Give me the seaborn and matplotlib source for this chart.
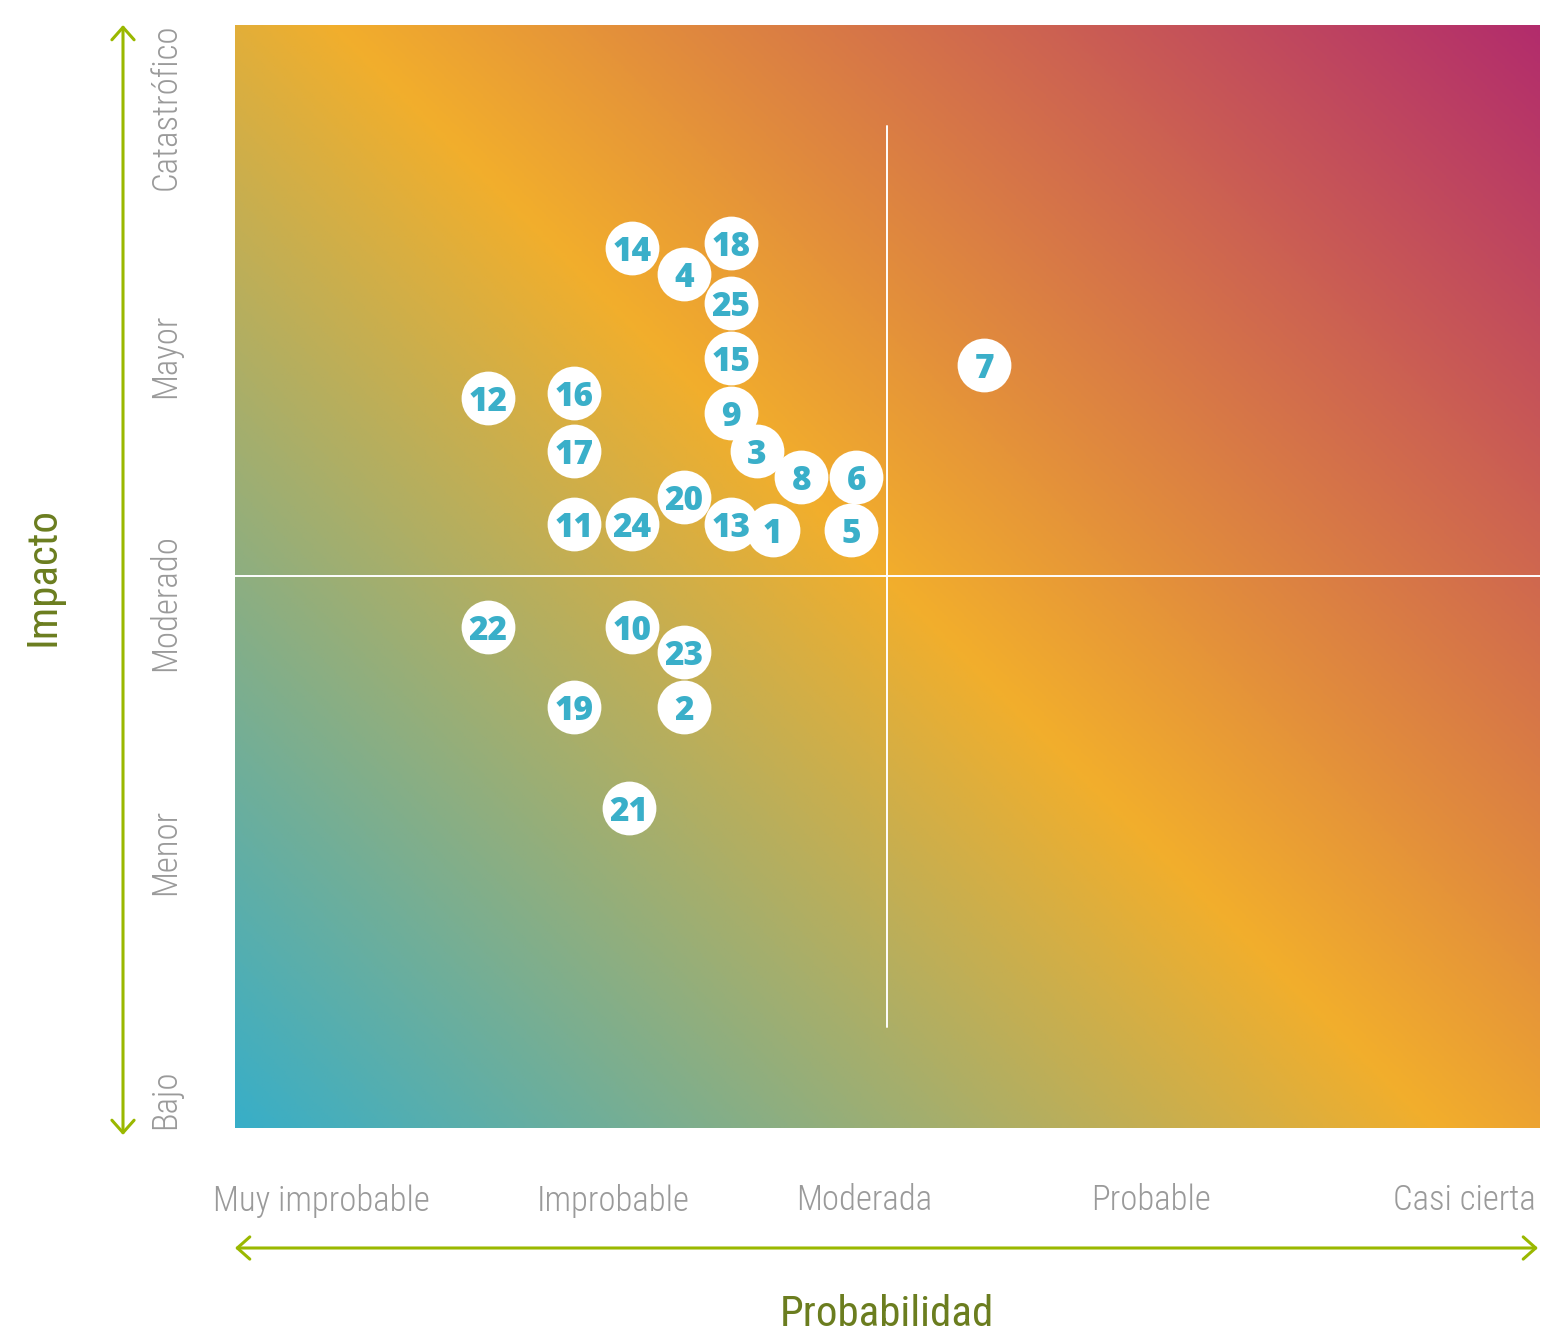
import numpy as np
import pandas as pd
import matplotlib
matplotlib.use("Agg")
import matplotlib.pyplot as plt
from matplotlib import font_manager
from matplotlib.colors import LinearSegmentedColormap
import seaborn as sns

# risk ids with probability (x) and impact (y) on a 0-5 scale
risk_ids = ["1", "2", "3", "4", "5", "6", "7", "8", "9", "10", "11", "12", "13",
            "14", "15", "16", "17", "18", "19", "20", "21", "22", "23", "24", "25"]
probabilidad = [2.06, 1.72, 2.00, 1.72, 2.36, 2.38, 2.87, 2.17, 1.90, 1.52, 1.30, 0.97, 1.90,
                1.52, 1.90, 1.30, 1.30, 1.90, 1.30, 1.72, 1.51, 0.97, 1.72, 1.52, 1.90]
impacto = [2.71, 1.91, 3.07, 3.87, 2.71, 2.95, 3.46, 2.95, 3.24, 2.27, 2.74, 3.31, 2.74,
           3.99, 3.49, 3.33, 3.07, 4.01, 1.91, 2.86, 1.45, 2.27, 2.16, 2.74, 3.74]

x_labels = ["Muy improbable", "Improbable", "Moderada", "Probable", "Casi cierta"]
x_label_pos = [0.33, 1.45, 2.41, 3.51, 4.71]
y_labels = ["Bajo", "Menor", "Moderado", "Mayor", "Catastrófico"]
y_label_pos = [0.13, 1.25, 2.38, 3.50, 4.63]

df = pd.DataFrame({"id": risk_ids, "Probabilidad": probabilidad, "Impacto": impacto})

# pick a condensed font if one is installed
names = {f.name for f in font_manager.fontManager.ttflist}
cond = "DejaVu Sans"
for cand in ["Roboto Condensed", "Liberation Sans Narrow", "DejaVu Sans Condensed"]:
    if cand in names:
        cond = cand
        break

sns.set_theme(style="white")
plt.rcParams["font.family"] = [cond, "DejaVu Sans"]

fig = plt.figure(figsize=(15.41, 13.41), dpi=100)
ax = fig.add_axes([235 / 1541, 213 / 1341, 1305 / 1541, 1103 / 1341])

# diagonal gradient background
W, H = 1305, 1103
u = np.linspace(0, 1, 600)
v = np.linspace(0, 1, 600)
U, V = np.meshgrid(u, v)
T = (U * W + V * H) / (W + H)
cmap = LinearSegmentedColormap.from_list("risk", ["#38aec8", "#f2ae2c", "#b22c6c"])
ax.imshow(T, cmap=cmap, extent=[0, 5, 0, 5], origin="lower", aspect="auto",
          vmin=0, vmax=1, zorder=0)

# quadrant lines
ax.axhline(2.5, color="white", lw=1.4, zorder=1)
ax.plot([2.5, 2.5], [0.46, 4.54], color="white", lw=1.4, zorder=1)

sns.scatterplot(data=df, x="Probabilidad", y="Impacto", color="white", s=1500,
                linewidth=0, ax=ax, zorder=3, legend=False)
for _, r in df.iterrows():
    ax.text(r["Probabilidad"], r["Impacto"], r["id"], ha="center", va="center_baseline",
            fontsize=24, fontweight="heavy", color="#3aafc9",
            family=["Open Sans", "DejaVu Sans"], zorder=4)

ax.set_xlim(0, 5)
ax.set_ylim(0, 5)
for s in ax.spines.values():
    s.set_visible(False)

ax.set_xticks(x_label_pos)
ax.set_xticklabels(x_labels, fontsize=25, color="#9a9a9a", fontweight="light")
ax.set_yticks(y_label_pos)
ax.set_yticklabels(y_labels, fontsize=25, color="#9a9a9a", fontweight="light",
                   rotation=90, va="center")
ax.tick_params(axis="x", length=0, pad=40)
ax.tick_params(axis="y", length=0, pad=38)
ax.set_xlabel("")
ax.set_ylabel("")

# axis arrows and titles
arrow_kw = dict(arrowstyle="<->,head_length=0.45,head_width=0.4", color="#9ab800",
                lw=2.2, mutation_scale=20, shrinkA=0, shrinkB=0)
fig.add_artist(matplotlib.patches.FancyArrowPatch((123 / 1541, 206 / 1341), (123 / 1541, 1316 / 1341),
                                                  transform=fig.transFigure, **arrow_kw))
fig.add_artist(matplotlib.patches.FancyArrowPatch((235 / 1541, 93 / 1341), (1538 / 1541, 93 / 1341),
                                                  transform=fig.transFigure, **arrow_kw))
fig.text(887 / 1541, 26 / 1341, "Probabilidad", ha="center", va="center",
         fontsize=31, color="#6b7d1f")
fig.text(43 / 1541, 764 / 1341, "Impacto", ha="center", va="center", rotation=90,
         fontsize=31, color="#6b7d1f")

fig.savefig("out.png", dpi=100)
